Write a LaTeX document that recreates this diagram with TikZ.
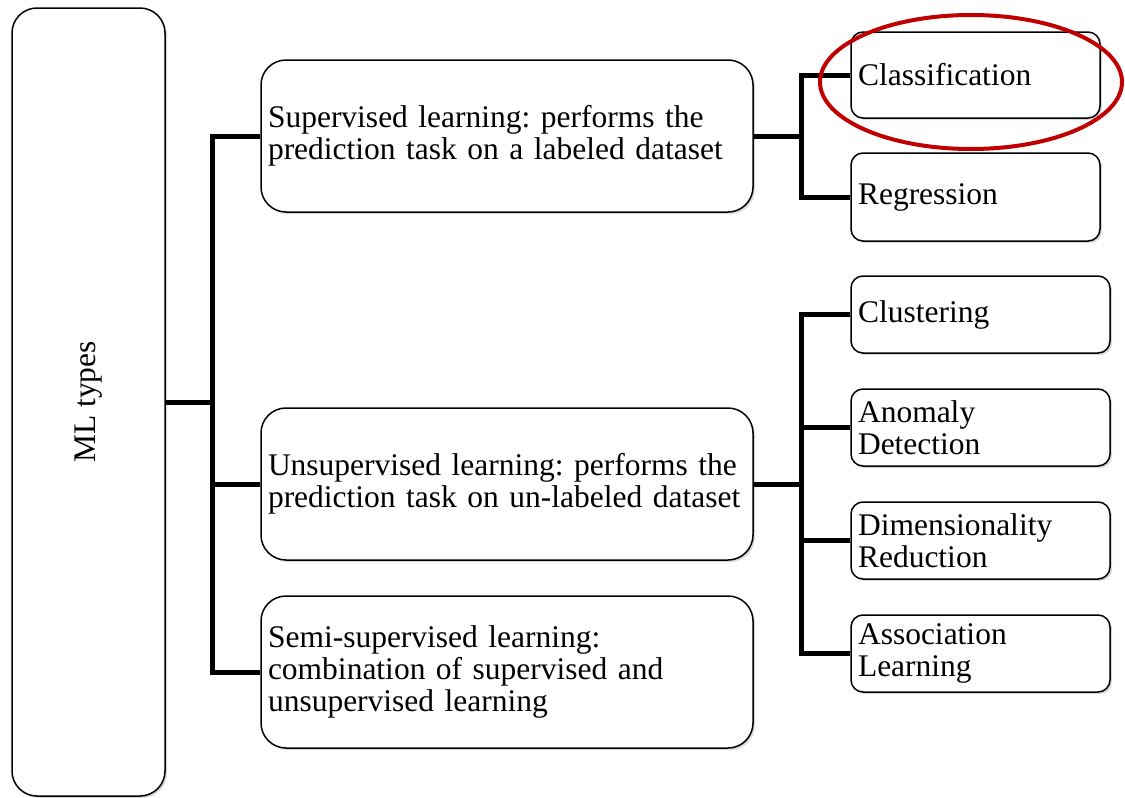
\documentclass[tikz,border=0pt]{standalone}
\usepackage{fontspec}
\setmainfont{Liberation Serif}
\usepackage{graphicx}
\usetikzlibrary{shadows}
\definecolor{hlred}{RGB}{192,0,0}
\frenchspacing

\begin{document}
\begin{tikzpicture}[x=1pt,y=-1pt,
		box/.style={draw,line width=1.5pt,fill=white,align=left,font=\fontsize{31.5}{32}\selectfont,
			drop shadow={shadow xshift=2pt,shadow yshift=-2pt,opacity=.3}},
		bigbox/.style={box,rounded corners=25pt,minimum height=152pt,text width=478pt,inner xsep=7pt},
		leaf/.style={box,rounded corners=12pt,inner xsep=7pt},
		link/.style={line width=5pt}]
		\useasboundingbox (0,0) rectangle (1125,798);
		\node[box,rounded corners=25pt,minimum width=153pt,minimum height=788pt] (ml) at (88.5,402) {\rotatebox{90}{ML types}};
		\node[bigbox] (sup) at (507,136) {Supervised learning: performs the\\prediction task on a labeled dataset};
		\node[bigbox] (unsup) at (507,484) {Unsupervised learning: performs the\\prediction task on un-labeled dataset};
		\node[bigbox] (semi) at (507,672) {Semi-supervised learning:\\combination of supervised and\\unsupervised learning};
		\node[leaf,text width=235pt,minimum height=86pt] (cls) at (975.5,75) {Classification};
		\node[leaf,text width=235pt,minimum height=88pt] (reg) at (975.5,197) {Regression};
		\node[leaf,text width=245pt,minimum height=77pt] (clu) at (980.5,314.5) {Clustering};
		\node[leaf,text width=245pt,minimum height=77pt] (ano) at (980.5,427.5) {Anomaly\\Detection};
		\node[leaf,text width=245pt,minimum height=77pt] (dim) at (980.5,540.5) {Dimensionality\\Reduction};
		\node[leaf,text width=245pt,minimum height=77pt] (asso) at (980.5,653.5) {Association\\Learning};
		\draw[link] (ml.east) -- ++(48,0);
		\draw[link] (sup.west) -- ++(-48,0) |- (semi.west);
		\draw[link] (unsup.west) -- ++(-48,0);
		\draw[link] (sup.east) -- ++(48,0) coordinate (sj);
		\draw[link] (cls.west) -| (sj) |- (reg.west);
		\draw[link] (unsup.east) -- ++(48,0) coordinate (uj);
		\draw[link] (clu.west) -| (uj) |- (asso.west);
		\draw[link] (ano.west) -- (ano.west -| uj);
		\draw[link] (dim.west) -- (dim.west -| uj);
		\draw[line width=4pt,hlred] (971,82) ellipse [x radius=151, y radius=67];
	\end{tikzpicture}
\end{document}
